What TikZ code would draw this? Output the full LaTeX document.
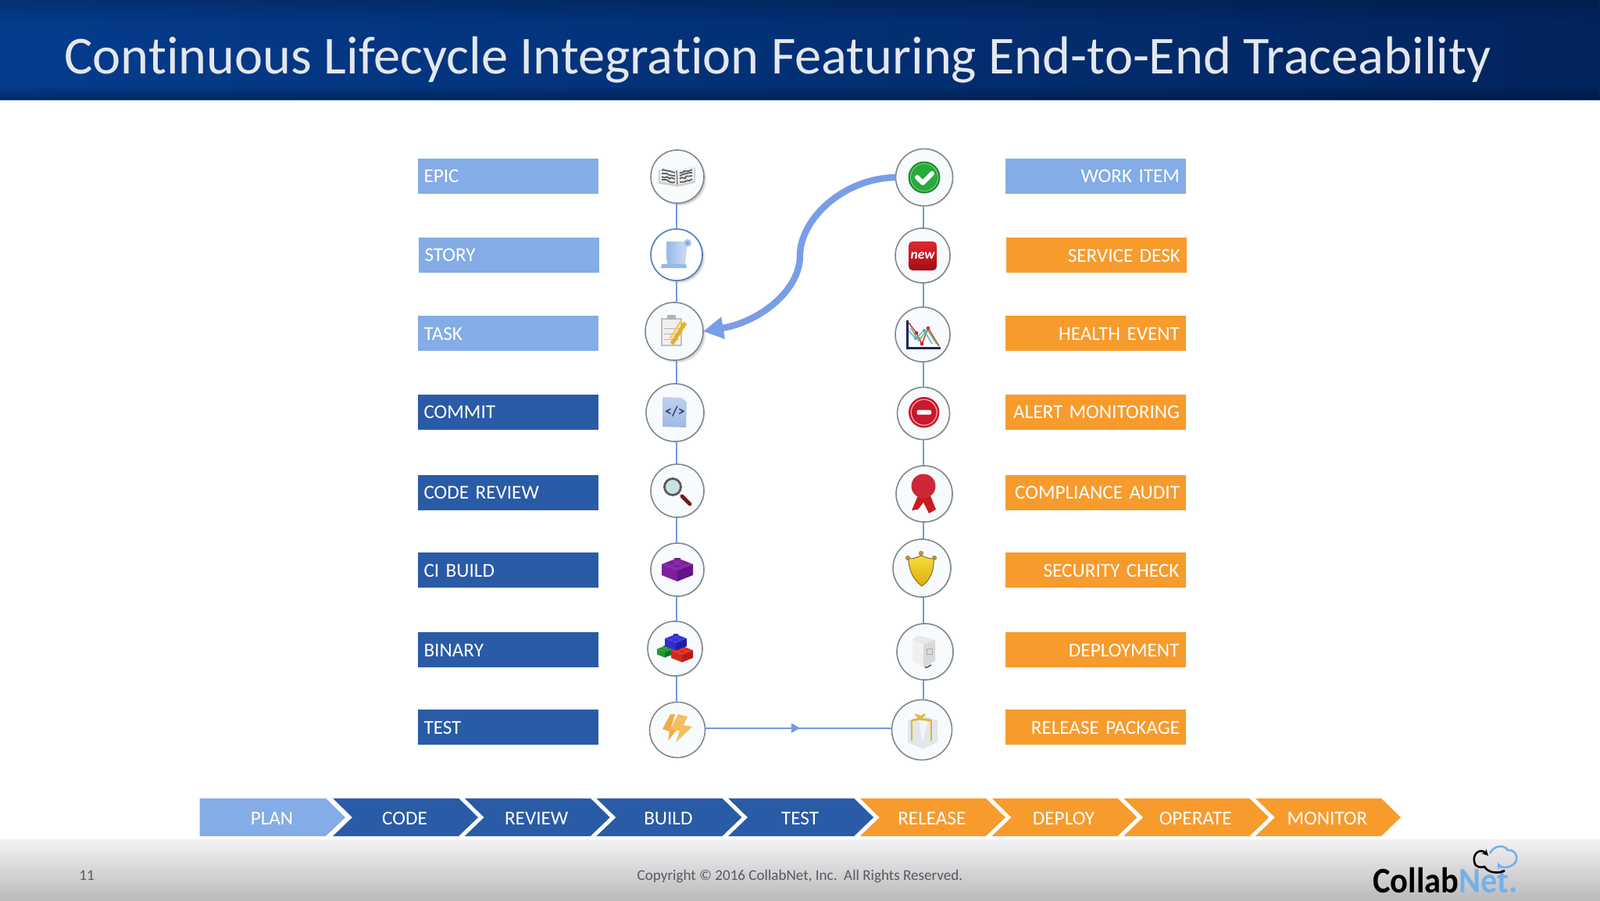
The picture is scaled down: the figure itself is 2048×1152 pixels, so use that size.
\documentclass[tikz,border=0pt]{standalone}
\usepackage{fontspec}
\usepackage{graphicx}
\setmainfont[Ligatures=NoCommon]{Carlito}
\usetikzlibrary{arrows.meta,shadows,decorations.markings,decorations.pathmorphing,calc,fadings}
\definecolor{barlight}{HTML}{84ACE6}
\definecolor{bardark}{HTML}{2A5BA7}
\definecolor{barorange}{HTML}{F79B2D}
\definecolor{linkblue}{HTML}{6F9BE0}
\definecolor{ringgrey}{HTML}{7F8890}
\definecolor{ringfill}{HTML}{F8FBFD}
\definecolor{titlecol}{HTML}{E4E7EC}
\definecolor{footcol}{HTML}{5A5A5E}
\definecolor{netblue}{HTML}{72B2E8}
\definecolor{headl}{HTML}{043C8C}
\definecolor{headr}{HTML}{02245E}
\definecolor{headline}{HTML}{AAC8EB}
\definecolor{foota}{HTML}{F3F2F4}
\definecolor{footb}{HTML}{E1E1E3}
\definecolor{footc}{HTML}{BABABC}
\definecolor{storyring}{HTML}{467DBE}
\definecolor{scrolla}{HTML}{96B9E6}
\definecolor{scrollb}{HTML}{CDDEF5}
\definecolor{scrollc}{HTML}{AAC8EB}
\definecolor{scrolld}{HTML}{78A0D7}
\definecolor{gold}{HTML}{E4B028}
\definecolor{goldl}{HTML}{F0CD5A}
\definecolor{pagea}{HTML}{BED0EE}
\definecolor{pageb}{HTML}{A0BAE2}
\definecolor{codeink}{HTML}{284178}
\definecolor{handle}{HTML}{781919}
\definecolor{lens}{HTML}{C8E1E6}
\definecolor{purplet}{HTML}{8728AA}
\definecolor{purplel}{HTML}{7D1EA0}
\definecolor{purpler}{HTML}{641487}
\definecolor{greent}{HTML}{32A541}
\definecolor{greenl}{HTML}{239637}
\definecolor{greenr}{HTML}{147328}
\definecolor{redt}{HTML}{E63728}
\definecolor{redl}{HTML}{D7281E}
\definecolor{redr}{HTML}{BE1919}
\definecolor{bluet}{HTML}{3C3CE1}
\definecolor{bluel}{HTML}{2D2DCD}
\definecolor{bluer}{HTML}{1E1EAA}
\definecolor{bolta}{HTML}{F0AC46}
\definecolor{boltb}{HTML}{F6BE5F}
\definecolor{checkd}{HTML}{1E8C32}
\definecolor{checkr}{HTML}{78D278}
\definecolor{checkf}{HTML}{28AA3C}
\definecolor{newa}{HTML}{DE282D}
\definecolor{newb}{HTML}{A50C14}
\definecolor{charta}{HTML}{D63C46}
\definecolor{chartb}{HTML}{5ABEDC}
\definecolor{chartc}{HTML}{6EBE6E}
\definecolor{chartd}{HTML}{DC2832}
\definecolor{charte}{HTML}{50B4D7}
\definecolor{chartax}{HTML}{192855}
\definecolor{stopred}{HTML}{C8192D}
\definecolor{stopring}{HTML}{FAAAAA}
\definecolor{ribbon}{HTML}{C81C1C}
\definecolor{rosette}{HTML}{CD2837}
\definecolor{knob}{HTML}{AA9655}
\definecolor{shielda}{HTML}{F7DE3C}
\definecolor{shieldb}{HTML}{DEAC0A}
\definecolor{shieldc}{HTML}{826E32}
\definecolor{giftbox}{HTML}{E2E5EC}
\definecolor{giftrib}{HTML}{E0B632}
\tikzset{
 barbase/.style={rectangle,minimum width=115.5pt,minimum height=22.5pt,inner sep=0pt,text=white,text height=8.9pt,text depth=0pt,font=\fontsize{12.6}{14}\selectfont,text width=107.5pt},
 lbar/.style={barbase,fill=#1,align=left},
 rbar/.style={barbase,fill=barorange,align=right},
 ic/.style={circle,draw=ringgrey,line width=.8pt,fill=ringfill,minimum size=#1,inner sep=0pt,outer sep=0pt},
 shad/.style={circular drop shadow={shadow xshift=1.3pt,shadow yshift=-1.3pt,opacity=.55,shadow scale=1.03}},
 softshad/.style={circular drop shadow={shadow xshift=.5pt,shadow yshift=-.5pt,opacity=.25,shadow scale=1.03}},
 link/.style={draw=linkblue,line width=1pt},
 chevlabel/.style={text=white,inner sep=0pt,font=\fontsize{12.6}{14}\selectfont},
 foot/.style={text=footcol,inner sep=0pt,font=\fontsize{9.55}{11}\selectfont,anchor=base},
 rand/.style={decorate,decoration={random steps,segment length=1.6pt,amplitude=.8pt}},
}
% chevron: #1 left x, #2 colour, #3 notch depth, #4 node name, #5 label
\newcommand\chev[5]{%
 \fill[#2] (#1,1021.5) -- ($(#1,1021.5)+(161,0)$) -- ($(#1,1046)+(186,0)$) -- ($(#1,1070)+(161,0)$) -- (#1,1070) -- ($(#1,1046)+(#3,0)$) -- cycle;
 \node[chevlabel] (#4) at ($(#1,1047.5)+(92,0)$) {#5};
}
% three-face toy brick centred at #1,#2, half width #3
\newcommand\brickicon[6]{%
 \begin{scope}[shift={(#1,#2)},x=#3*.5pt,y=-#3*.5pt]
  \fill[#4] (-1,-.35) -- (0,-.75) -- (1,-.35) -- (0,.05) -- cycle;
  \fill[#5] (-1,-.35) -- (0,.05) -- (0,.75) -- (-1,.35) -- cycle;
  \fill[#6] (1,-.35) -- (0,.05) -- (0,.75) -- (1,.35) -- cycle;
  \foreach \sx/\sy in {-.45/-.35,0/-.6,0/-.15,.45/-.35}
    \fill[#4!85!black] (\sx,\sy) ++(-.2,0) -- ++(0,-.16) -- ++(.4,0) -- ++(0,.16) -- cycle;
 \end{scope}}
\begin{document}
\begin{tikzpicture}[x=.5pt,y=-.5pt]
\useasboundingbox (0,0) rectangle (2048,1152);
\fill[white] (0,0) rectangle (2048,1152);
% header
\shade[left color=headl,right color=headr] (0,0) rectangle (2048,128);
\fill[black,opacity=.18,path fading=south] (0,0) rectangle (2048,30);
\fill[black,opacity=.3,path fading=north] (0,110) rectangle (2048,128);
\draw[headline,line width=.5pt] (0,128.5) -- (2048,128.5);
\node[anchor=base west,inner sep=0pt,text=titlecol,font=\fontsize{34.2}{36}\selectfont] (title) at (82,94) {Continuous Lifecycle Integration Featuring End-to-End Traceability};
% footer
\shade[top color=foota,middle color=footb,bottom color=footc] (0,1074) rectangle (2048,1152);
\node[foot] (pagenum) at (111,1126) {11};
\node[foot] (copyright) at (1024,1126) {Copyright © 2016 CollabNet, Inc.\ \ All Rights Reserved.};
% logo
\node[anchor=base west,inner sep=0pt,font=\fontsize{23}{25}\bfseries\selectfont] (logo) at (1757,1142) {\scalebox{.925}[1]{Collab\textcolor{netblue}{Net.}}};
\draw[netblue,line width=1.3pt,-{Stealth[length=4pt,width=4pt]}] (1907,1092) .. controls (1912,1082) and (1925,1080) .. (1930,1088) .. controls (1942,1086) and (1946,1104) .. (1934,1108) .. controls (1930,1111) and (1920,1110) .. (1917,1104);
\draw[black,line width=1.3pt,{Stealth[length=4pt,width=4pt]}-] (1905,1095) .. controls (1895,1085) and (1885,1092) .. (1887,1102) .. controls (1888,1112) and (1898,1110) .. (1900,1109) .. controls (1905,1118) and (1920,1118) .. (1926,1114);
% left bars
\node[lbar=barlight] (bepic) at (650,225) {EPIC};
\node[lbar=barlight] (bstory) at (651,326) {STORY};
\node[lbar=barlight] (btask) at (650,426.5) {TASK};
\node[lbar=bardark] (bcommit) at (650,527) {COMMIT};
\node[lbar=bardark] (breview) at (650,630) {CODE REVIEW};
\node[lbar=bardark] (bci) at (650,729.5) {CI BUILD};
\node[lbar=bardark] (bbinary) at (650,831.5) {BINARY};
\node[lbar=bardark] (btest) at (650,930.5) {TEST};
% right bars
\node[barbase,fill=barlight,align=right] (bwork) at (1402.5,225) {WORK ITEM};
\node[rbar] (bservice) at (1403.5,326.5) {SERVICE DESK};
\node[rbar] (bhealth) at (1402.5,426.5) {HEALTH EVENT};
\node[rbar] (balert) at (1402.5,527) {ALERT MONITORING};
\node[rbar] (bcomp) at (1402.5,630) {COMPLIANCE AUDIT};
\node[rbar] (bsec) at (1402,729.5) {SECURITY CHECK};
\node[rbar] (bdeploy) at (1402,831.5) {DEPLOYMENT};
\node[rbar] (brelease) at (1402.5,930.5) {RELEASE PACKAGE};
% chevrons
\fill[barlight] (255.5,1021.5) -- (417,1021.5) -- (442,1046) -- (417,1070) -- (255.5,1070) -- cycle;
\node[chevlabel] (cplan) at (348,1047.5) {PLAN};
\chev{426}{bardark}{25}{ccode}{CODE}
\chev{594.7}{bardark}{25}{creview}{REVIEW}
\chev{763.4}{bardark}{25}{cbuild}{BUILD}
\chev{932.1}{bardark}{25}{ctest}{TEST}
\chev{1100.8}{barorange}{25}{crelease}{RELEASE}
\chev{1269.5}{barorange}{25}{cdeploy}{DEPLOY}
\chev{1438.2}{barorange}{25}{coperate}{OPERATE}
\chev{1606.9}{barorange}{25}{cmonitor}{MONITOR}
% circles
\node[ic=34pt,shad] (iepic) at (867,226) {};
\node[ic=33pt,shad,draw=storyring,fill=white] (istory) at (866,326) {};
\node[ic=37pt,shad] (itask) at (863,424) {};
\node[ic=37pt,softshad] (icommit) at (864,528) {};
\node[ic=34pt,softshad] (ireview) at (867,628) {};
\node[ic=34pt,softshad] (ici) at (867,729) {};
\node[ic=35pt,softshad] (ibinary) at (864,830) {};
\node[ic=35.5pt] (itest) at (867,934) {};
\node[ic=36.5pt,softshad] (iwork) at (1183,227) {};
\node[ic=35pt,softshad] (iservice) at (1181,327) {};
\node[ic=35pt,softshad] (ihealth) at (1181,428) {};
\node[ic=33.5pt,softshad] (ialert) at (1182,529) {};
\node[ic=36pt,softshad] (icomp) at (1183,632) {};
\node[ic=37pt,softshad] (isec) at (1180,727) {};
\node[ic=36pt,softshad] (ideploy) at (1184,834) {};
\node[ic=38.5pt] (irelease) at (1180,934) {};
% connectors
\coordinate (lx) at (865.7,0);
\coordinate (rx) at (1181.7,0);
\coordinate (hy) at (0,931.7);
\foreach \a/\b in {iepic/istory,istory/itask,itask/icommit,icommit/ireview,ireview/ici,ici/ibinary,ibinary/itest}
  \draw[link] (lx |- \a.south) -- (lx |- \b.north);
\foreach \a/\b in {iwork/iservice,iservice/ihealth,ihealth/ialert,ialert/icomp,icomp/isec,isec/ideploy,ideploy/irelease}
  \draw[link] (rx |- \a.south) -- (rx |- \b.north);
\draw[link,postaction={decorate},decoration={markings,mark=at position .508 with {\arrow{Triangle[length=5.5pt,width=6pt]}}}] (itest.east |- hy) -- (irelease.west |- hy);
\draw[draw=barlight!92!blue,line width=4.2pt,-{Triangle[length=13pt,width=13.5pt]}] (iwork.west) .. controls (1080,228) and (1024,280) .. (1024,327) .. controls (1024,372) and (972,412) .. (itask.east);
% icon: book
\begin{scope}[shift={(iepic.center)}]
 \fill[gray!35] (-24,-9) -- (-1,-8) -- (23,-12) -- (23,8) -- (1,13) -- (-24,9) -- cycle;
 \fill[gray!10] (-22,-12) -- (-1,-8) -- (21,-14) -- (21,5) -- (0,10) -- (-22,6) -- cycle;
 \foreach \v in {-7,-3,1,5}{
  \draw[gray!75!black,line width=.9pt,rand] (-20,\v-1) -- (-3,\v+2);
  \draw[gray!75!black,line width=.9pt,rand] (3,\v+2) -- (19,\v-2);}
 \draw[gray,line width=.8pt] (-1,-8) -- (0,10);
\end{scope}
% icon: scroll
\begin{scope}[shift={(istory.center)}]
 \shade[left color=scrolla,right color=scrollb] (-13,-17) -- (14,-17) -- (11,14) -- (-12,14) -- cycle;
 \fill[scrolla] (-19,12) -- (12,12) -- (13,17) -- (-20,17) -- cycle;
 \fill[scrollc] (14,-15) circle[radius=5];
 \fill[scrolld] (14,-15) circle[radius=2];
\end{scope}
% icon: clipboard
\begin{scope}[shift={(itask.center)}]
 \fill[gray!50] (-17,-17) rectangle (10,19);
 \fill[gray!12] (-15,-15) rectangle (8,17);
 \foreach \v in {-4,3,10} \draw[gray!60,line width=.5pt] (-13,\v) -- (6,\v);
 \fill[gray!60] (-9,-21) rectangle (2,-15);
 \draw[gold,line width=2.6pt] (14,-11) -- (-3,16);
 \draw[goldl,line width=1.2pt] (9,-14) -- (-5,9);
\end{scope}
% icon: code page
\begin{scope}[shift={(icommit.center)}]
 \shade[top color=pagea,bottom color=pageb] (-16,-20) -- (8,-19) -- (15,-14) -- (14,19) -- (-16,18) -- cycle;
 \node[inner sep=0pt,text=codeink,font=\fontsize{9}{10}\bfseries\selectfont] (codetxt) at (0,-1) {</>};
\end{scope}
% icon: magnifier
\begin{scope}[shift={(ireview.center)}]
 \draw[handle,line width=2.4pt,line cap=round] (6,7) -- (16,17);
 \draw[fill=lens,draw=gray!70!black,line width=1.4pt] (-6,-5) circle[radius=10.5];
\end{scope}
% icon: bricks
\brickicon{867}{729}{20}{purplet}{purplel}{purpler}
\brickicon{851}{834}{10}{greent}{greenl}{greenr}
\brickicon{873}{837}{14}{redt}{redl}{redr}
\brickicon{865}{822}{14}{bluet}{bluel}{bluer}
% icon: lightning
\begin{scope}[shift={(itest.center)}]
 \fill[bolta] (-9,-20) -- (-19,-1) -- (-10,2) -- (-12,14) -- (0,-1) -- (-8,-4) -- (-3,-20) -- cycle;
 \fill[boltb] (1,-20) -- (13,-17) -- (8,-6) -- (19,-4) -- (-2,16) -- (3,1) -- (-9,-1) -- cycle;
\end{scope}
% icon: check
\begin{scope}[shift={(iwork.center)}]
 \fill[checkd] (0,0) circle[radius=20.5];
 \draw[checkr,line width=.6pt] (0,0) circle[radius=17.5];
 \fill[checkf] (0,0) circle[radius=16.5];
 \draw[white,line width=3pt,line cap=round,line join=round] (-9,0) -- (-2,7) -- (10,-5);
\end{scope}
% icon: new
\begin{scope}[shift={(iservice.center)}]
 \shade[rounded corners=2.5pt,top color=newa,bottom color=newb] (-18,-18) rectangle (18,19);
 \node[inner sep=0pt,text=white,font=\fontsize{8.8}{10}\bfseries\itshape\selectfont] (newtxt) at (0,0) {new};
\end{scope}
% icon: chart
\begin{scope}[shift={(ihealth.center)}]
 \draw[charta,line width=.8pt] (-18,-15) -- (-8,-2) -- (-1,12) -- (7,-8) -- (21,15);
 \draw[chartb,line width=.8pt] (-18,-5) -- (-9,5) -- (2,-5) -- (12,12);
 \draw[chartc,line width=.8pt] (-15,-8) -- (-5,8) -- (6,-6) -- (18,12);
 \foreach \px/\py in {-8/-2,7/-8,-1/12}\fill[chartd] (\px,\py) circle[radius=2.4];
 \foreach \px/\py in {-9/5,2/-5}\fill[charte] (\px,\py) circle[radius=2.2];
 \draw[chartax,line width=1.5pt] (-20,-18) -- (-20,17) -- (23,17);
\end{scope}
% icon: no entry
\begin{scope}[shift={(ialert.center)}]
 \fill[stopred] (.7,-1.3) circle[radius=19.7];
 \draw[stopring,line width=.6pt] (.7,-1.3) circle[radius=16.5];
 \fill[white,rounded corners=1pt] (-8.5,-4.3) rectangle (10,1.7);
\end{scope}
% icon: rosette
\begin{scope}[shift={(icomp.center)}]
 \fill[ribbon] (-7,0) -- (-16,21) -- (-8,20) -- (-1,11) -- (6,25) -- (15,20) -- (7,0) -- cycle;
 \fill[rosette] (-1,-10) circle[radius=15.5];
\end{scope}
% icon: shield
\begin{scope}[shift={(isec.center)}]
 \foreach \px/\py in {-1/-19,-18/-13,16/-13}\fill[knob] (\px,\py) circle[radius=3.2];
 \shade[top color=shielda,bottom color=shieldb,draw=shieldc,line width=.5pt] (-17,-12) .. controls (-8,-12) and (-4,-15) .. (-1,-16) .. controls (3,-15) and (7,-12) .. (15,-12) .. controls (16,4) and (10,16) .. (0,23) .. controls (-10,16) and (-17,4) .. (-17,-12) -- cycle;
\end{scope}
% icon: server
\begin{scope}[shift={(ideploy.center)}]
 \fill[gray!18] (-16,-16) -- (-9,-21) -- (13,-15) -- (-2,-9) -- cycle;
 \fill[gray!12] (-16,-16) -- (-2,-9) -- (-2,20) -- (-16,12) -- cycle;
 \fill[gray!30] (-2,-9) -- (13,-15) -- (13,12) -- (-2,20) -- cycle;
 \draw[gray!65,line width=.5pt] (2,-4) rectangle (9,3);
 \draw[gray!60!black,line width=.8pt,rand] (0,20) -- (8,17);
\end{scope}
% icon: gift
\begin{scope}[shift={(irelease.center)}]
 \fill[giftbox] (-18,-12) -- (1,-18) -- (20,-12) -- (20,16) -- (1,24) -- (-18,16) -- cycle;
 \fill[white,opacity=.6] (-4,-12) -- (8,-12) -- (1,16) -- cycle;
 \draw[giftrib,line width=1.3pt] (-13,-12) -- (-13,14);
 \draw[giftrib,line width=1.3pt] (12,-12) -- (12,14);
 \draw[giftrib,line width=1.3pt] (-13,-12) -- (-3,-14) -- (12,-12);
 \draw[giftrib,line width=1pt] (-3,-14) -- (-7,-19) -- (-1,-17) -- (4,-20) -- (-3,-14);
\end{scope}
\end{tikzpicture}
\end{document}
